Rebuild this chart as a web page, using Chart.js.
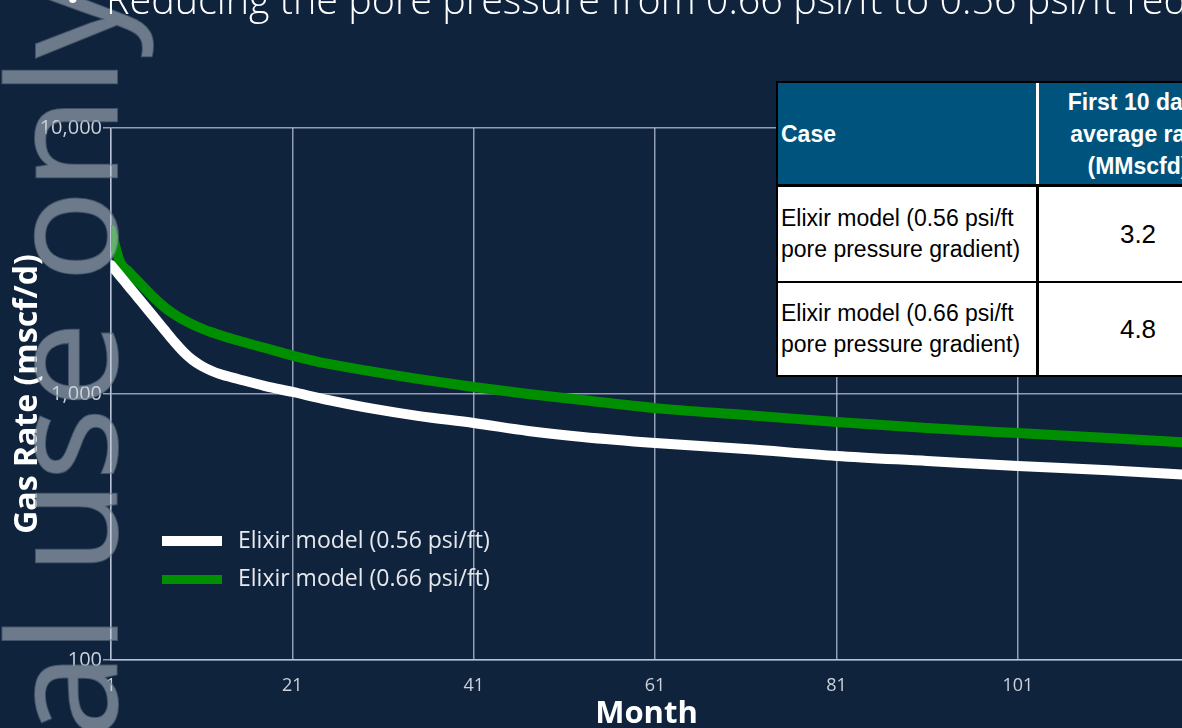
<!DOCTYPE html>
<html><head><meta charset="utf-8">
<script src="https://cdn.jsdelivr.net/npm/chart.js@4"></script>
<style>
html,body{margin:0;padding:0;background:#10233d;width:1182px;height:728px;overflow:hidden;position:relative;font-family:"Open Sans",sans-serif}
#c{position:absolute;left:0;top:0}
#title{position:absolute;left:0;top:-21px;width:1182px;height:50px;white-space:nowrap;color:#fff;font-family:"Open Sans",sans-serif;font-weight:300;font-size:39.5px;line-height:40px}
#title .b{position:absolute;left:66px;top:0;font-weight:400;font-size:36px}
#title .t{position:absolute;left:106px;top:0}
.sw{position:absolute;left:162px;width:60px}
.lt{position:absolute;left:238px;font-family:"Open Sans",sans-serif;font-size:23px;line-height:23px;color:#e6e8ec;white-space:nowrap}
#tbl{position:absolute;left:776px;top:81px;width:470px;height:296px;background:#000;font-family:"Liberation Sans",Arial,sans-serif}
#tbl div{position:absolute;box-sizing:border-box;display:flex;align-items:center;white-space:nowrap}
.hd{background:#00537c;color:#fff;font-weight:bold;font-size:23px;line-height:32px}
.bd{background:#fff;color:#000;font-size:23px;line-height:31px}
</style></head><body>
<canvas id="c" width="1182" height="728"></canvas>
<div id="title"><span class="b">•</span><span class="t">Reducing the pore pressure from 0.66 psi/ft to 0.56 psi/ft reduces the gas rate</span></div>
<div class="sw" style="top:536px;height:10px;background:#ffffff"></div>
<div class="sw" style="top:575px;height:9px;background:#008f00"></div>
<div class="lt" style="top:528px">Elixir model (0.56 psi/ft)</div>
<div class="lt" style="top:566px">Elixir model (0.66 psi/ft)</div>
<div id="tbl">
  <div class="hd" style="left:2px;top:2px;width:258px;height:101px;padding-left:3px">Case</div>
  <div style="left:260px;top:2px;width:3px;height:101px;background:#fff"></div>
  <div class="hd" style="left:263px;top:2px;width:198px;height:101px;justify-content:center;text-align:center">First 10 days<br>average rate<br>(MMscfd)</div>
  <div class="bd" style="left:2px;top:106px;width:258px;height:94px;padding-left:3px">Elixir model (0.56 psi/ft<br>pore pressure gradient)</div>
  <div class="bd" style="left:263px;top:106px;width:198px;height:94px;justify-content:center;font-size:26px">3.2</div>
  <div class="bd" style="left:2px;top:202px;width:258px;height:92px;padding-left:3px">Elixir model (0.66 psi/ft<br>pore pressure gradient)</div>
  <div class="bd" style="left:263px;top:202px;width:198px;height:92px;justify-content:center;font-size:26px">4.8</div>
</div>
<script>
// Data
const months   = [1,2,3,4,5,6,7,8,9,10,11,12,13,15,18,21,25,30,35,41,47,53,61,71,81,91,101,111,121];
const rate056  = [3055,2777,2526,2296,2087,1898,1725,1569,1439,1342,1274,1226,1189,1139,1071,1018,949,879,826,778,726,689,654,621,585,560,536,517,494];
const rate066  = [4136,3135,2874,2648,2439,2256,2105,1991,1898,1825,1763,1710,1667,1589,1489,1395,1297,1211,1138,1062,1000,949,885,834,785,745,713,683,653];
const xTicks   = [1,21,41,61,81,101];
const yTicks   = [100,1000,10000];
const seriesLabels = ['Elixir model (0.56 psi/ft)','Elixir model (0.66 psi/ft)'];

const gridColor = 'rgba(200,210,230,0.7)';
const tickColor = '#cdd2da';
const fam = '"Open Sans", sans-serif';

const watermark = {
  id:'watermark',
  afterDraw(chart){
    const c = chart.ctx;
    c.save();
    c.font = '150px "Open Sans"';
    c.translate(117, 738);
    c.rotate(-Math.PI/2);
    c.scale(1.02, 1);
    c.textBaseline = 'alphabetic';
    c.fillStyle = 'rgba(200,210,220,0.5)';
    c.fillText('al use only', 0, 0);
    c.strokeStyle = 'rgba(110,125,140,0.55)';
    c.lineWidth = 2;
    c.strokeText('al use only', 0, 0);
    c.restore();
  }
};

new Chart(document.getElementById('c').getContext('2d'), {
  type:'line',
  data:{datasets:[
    {label:seriesLabels[0], data:months.map((m,i)=>({x:m,y:rate056[i]})), borderColor:'#ffffff', borderWidth:10},
    {label:seriesLabels[1], data:months.map((m,i)=>({x:m,y:rate066[i]})), borderColor:'#008f00', borderWidth:10}
  ]},
  options:{
    responsive:false, animation:false, devicePixelRatio:1,
    layout:{padding:{top:128,left:0,right:0,bottom:0}},
    plugins:{legend:{display:false}, tooltip:{enabled:false}},
    elements:{point:{radius:0}, line:{cubicInterpolationMode:'monotone', borderCapStyle:'round', borderJoinStyle:'round'}},
    scales:{
      x:{type:'linear', min:1, max:119.1,
        afterBuildTicks:s=>{s.ticks = xTicks.map(v=>({value:v}));},
        afterFit:s=>{s.height = 68;},
        grid:{color:gridColor, lineWidth:1.5, drawTicks:false},
        border:{color:gridColor, width:1.5},
        ticks:{color:tickColor, font:{family:fam, size:18}, padding:15, maxRotation:0, autoSkip:false},
        title:{display:true, text:'Month', color:'#ffffff', font:{family:fam, size:31, weight:'bold', lineHeight:0.9}, padding:{top:0,bottom:0}}
      },
      y:{type:'logarithmic', min:100, max:10000,
        afterBuildTicks:s=>{s.ticks = yTicks.map(v=>({value:v}));},
        afterFit:s=>{s.width = 111;},
        grid:{color:gridColor, lineWidth:1.5, tickLength:8},
        border:{color:gridColor, width:1.5},
        ticks:{color:tickColor, font:{family:fam, size:20}, padding:1, callback:v=>Number(v).toLocaleString('en-US')},
        title:{display:true, text:'Gas Rate (mscf/d)', color:'#ffffff', font:{family:fam, size:32, weight:'bold'}, padding:{top:9,bottom:0}}
      }
    }
  },
  plugins:[watermark]
});
</script>
</body></html>
